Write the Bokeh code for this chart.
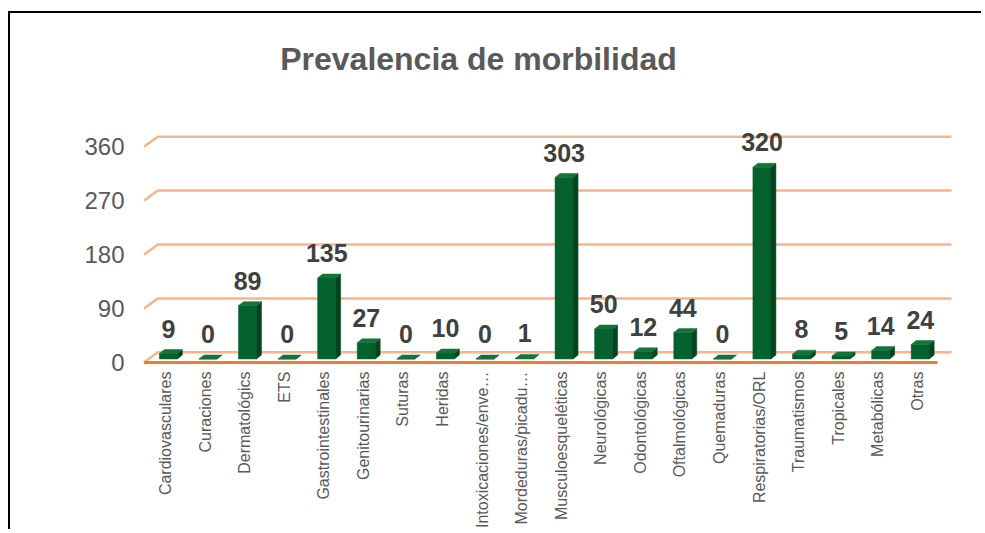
from math import pi
import numpy as np
from bokeh.plotting import figure
from bokeh.models import Range1d, FixedTicker, Label
from bokeh.embed import file_html
from bokeh.resources import INLINE
from bokeh.core.properties import value

# ---------------- data ----------------
categories = [
    "Cardiovasculares", "Curaciones", "Dermatológics", "ETS", "Gastrointestinales",
    "Genitourinarias", "Suturas", "Heridas", "Intoxicaciones/enve…", "Mordeduras/picadu…",
    "Musculoesqueléticas", "Neurológicas", "Odontológicas", "Oftalmológicas", "Quemaduras",
    "Respiratorias/ORL", "Traumatismos", "Tropicales", "Metabólicas", "Otras",
]
values = [9, 0, 89, 0, 135, 27, 0, 10, 0, 1, 303, 50, 12, 44, 0, 320, 8, 5, 14, 24]
y_ticks = [0, 90, 180, 270, 360]
title_text = "Prevalencia de morbilidad"

# ---------------- style ----------------
FONT = "Liberation Sans"
FRONT = "#04602D"
SIDE = "#02451F"
TOP = "#137338"
GRID = "#F5B68B"
BASE = "#ED7D31"

n = len(categories)
xs = np.arange(n, dtype=float)
v = np.array(values, dtype=float)

p = figure(width=973, height=518,
           x_range=Range1d(-0.556, n - 1 + 0.965),
           y_range=Range1d(-9.96, 582.6),
           output_backend="svg", toolbar_location=None,
           min_border_left=133, min_border_right=28,
           min_border_top=0, min_border_bottom=161)
p.outline_line_color = None
p.background_fill_color = "white"
p.border_fill_color = "white"
p.xgrid.visible = False
p.ygrid.visible = False
p.styles = {"border-top": "2px solid #000", "border-left": "2px solid #000",
            "margin-top": "11px", "margin-left": "8px"}

# ---------------- 3D gridlines ----------------
GDX, GDY = 0.354, 17.0
gx0 = -0.55
back_end = n - 1 + 0.864
front_end = n - 1 + 0.51
p.multi_line([[gx0, gx0 + GDX, back_end] for _ in y_ticks],
             [[t, t + GDY, t + GDY] for t in y_ticks],
             line_color=GRID, line_width=2.5)
p.line([gx0, front_end], [0, 0], line_color=BASE, line_width=3)

# ---------------- 3D bars ----------------
BL, BR, BB, DX, DY = -0.155, 0.30, 6.0, 0.126, 6.6
L = xs + BL
R = xs + BR
T = BB + v
p.quad(left=L, right=R, bottom=BB, top=T, fill_color=FRONT,
       line_color=FRONT, line_width=0.5)
p.patches([[r, r + DX, r + DX, r] for r in R],
          [[BB, BB + DY, t + DY, t] for t in T],
          fill_color=SIDE, line_color=SIDE, line_width=0.5)
p.patches([[l, r, r + DX, l + DX] for l, r in zip(L, R)],
          [[t, t, t + DY, t + DY] for t in T],
          fill_color=TOP, line_color=TOP, line_width=0.5)

# ---------------- data labels ----------------
p.text(x=xs + 0.075, y=v + 47.5, text=[str(int(a)) for a in values],
       text_font=value(FONT), text_font_style="bold", text_font_size="25px",
       text_color="#404040", text_align="center", text_baseline="middle")

# ---------------- title ----------------
p.add_layout(Label(x=7.91, y=506, text=title_text, text_font=FONT,
                   text_font_style="bold", text_font_size="32px",
                   text_color="#595959", text_align="center",
                   text_baseline="alphabetic"))

# ---------------- axes ----------------
p.xaxis.ticker = FixedTicker(ticks=list(range(n)))
p.xaxis.major_label_overrides = {i: c for i, c in enumerate(categories)}
p.xaxis.major_label_orientation = pi / 2
p.xaxis.major_label_standoff = 3
p.xaxis.major_label_text_font = FONT
p.xaxis.major_label_text_font_size = "16px"
p.xaxis.major_label_text_color = "#595959"

p.yaxis.ticker = FixedTicker(ticks=y_ticks)
p.yaxis.major_label_standoff = 19
p.yaxis.major_label_text_font = FONT
p.yaxis.major_label_text_font_size = "24px"
p.yaxis.major_label_text_color = "#595959"

for ax in (p.xaxis, p.yaxis):
    ax.axis_line_color = None
    ax.major_tick_line_color = None
    ax.minor_tick_line_color = None
    ax.major_tick_out = 0
    ax.major_tick_in = 0

open("out.html", "w").write(file_html(p, INLINE))
